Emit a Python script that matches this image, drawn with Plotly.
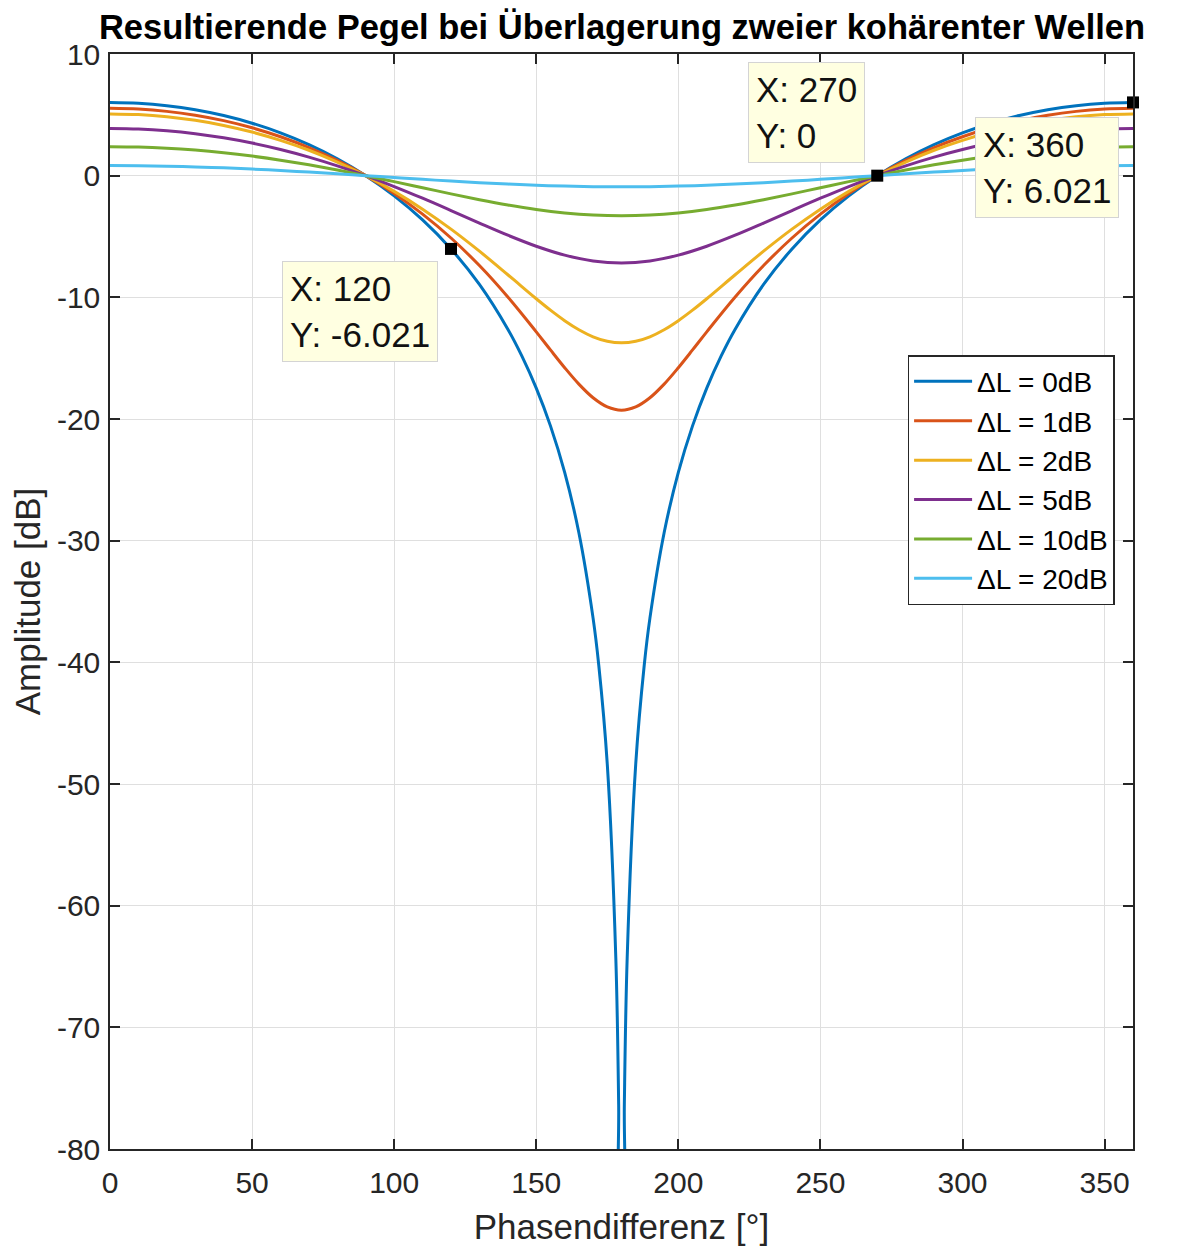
import plotly.graph_objects as go

# ---------------- data ----------------
phase_deg = [0, 10, 20, 30, 40, 50, 60, 70, 80, 90, 100, 110, 120, 130, 140, 150, 160, 170, 180,
             190, 200, 210, 220, 230, 240, 250, 260, 270, 280, 290, 300, 310, 320, 330, 340, 350, 360]

phase_deg_fine = [0, 10, 20, 30, 40, 50, 60, 70, 80, 90, 100, 110, 120, 130, 140, 150, 155, 160, 165,
                  170, 175, 180, 185, 190, 195, 200, 205, 210, 220, 230, 240, 250, 260, 270, 280,
                  290, 300, 310, 320, 330, 340, 350, 360]

phase_deg_0dB = [0, 10, 20, 30, 40, 50, 60, 70, 80, 90, 100, 110, 120, 130, 140, 145, 150, 155, 160,
                 165, 170, 172, 175, 178, 179, 179.5,
                 180.5, 181, 182, 185, 188, 190, 195, 200, 205, 210, 215, 220, 230, 240, 250, 260,
                 270, 280, 290, 300, 310, 320, 330, 340, 350, 360]
level_0dB = [6.021, 5.955, 5.755, 5.418, 4.940, 4.312, 3.522, 2.555, 1.391, 0.000, -1.657, -3.636,
             -6.021, -8.941, -12.617, -14.854, -17.460, -20.566, -24.392, -29.35, -36.369, -40.24,
             -48.39, -64.31, -76.35, -88.39,
             -88.39, -76.35, -64.31, -48.39, -40.24, -36.369, -29.35, -24.392, -20.566, -17.460,
             -14.854, -12.617, -8.941, -6.021, -3.636, -1.657, 0.000, 1.391, 2.555, 3.522, 4.312,
             4.940, 5.418, 5.755, 5.955, 6.021]

level_1dB = [5.535, 5.472, 5.285, 4.969, 4.521, 3.934, 3.201, 2.311, 1.250, 0.000, -1.461, -3.158,
             -5.124, -7.389, -9.971, -12.835, -14.323, -15.783, -17.132, -18.252, -19.004, -19.272,
             -19.004, -18.252, -17.132, -15.783, -14.323, -12.835,
             -9.971, -7.389, -5.124, -3.158, -1.461, 0.000, 1.250, 2.311, 3.201, 3.934, 4.521,
             4.969, 5.285, 5.472, 5.535]
level_2dB = [5.078, 5.019, 4.843, 4.547, 4.128, 3.583, 2.905, 2.088, 1.122, 0.000, -1.289, -2.754,
             -4.396, -6.207, -8.145, -10.114, -11.054, -11.918, -12.663, -13.241, -13.610, -13.737,
             -13.610, -13.241, -12.663, -11.918, -11.054, -10.114,
             -8.145, -6.207, -4.396, -2.754, -1.289, 0.000, 1.122, 2.088, 2.905, 3.583, 4.128,
             4.547, 4.843, 5.019, 5.078]
level_5dB = [3.876, 3.828, 3.685, 3.446, 3.111, 2.680, 2.152, 1.528, 0.809, 0.000, -0.892, -1.855,
             -2.867, -3.896, -4.894, -5.798, -6.529, -7.009, -7.177, -7.009, -6.529, -5.798,
             -4.894, -3.896, -2.867, -1.855, -0.892, 0.000, 0.809, 1.528, 2.152, 2.680, 3.111,
             3.446, 3.685, 3.828, 3.876]
level_10dB = [2.386, 2.355, 2.260, 2.102, 1.884, 1.607, 1.275, 0.892, 0.464, 0.000, -0.491, -0.994,
              -1.495, -1.974, -2.409, -2.780, -3.063, -3.241, -3.302, -3.241, -3.063, -2.780,
              -2.409, -1.974, -1.495, -0.994, -0.491, 0.000, 0.464, 0.892, 1.275, 1.607, 1.884,
              2.102, 2.260, 2.355, 2.386]
level_20dB = [0.828, 0.816, 0.780, 0.721, 0.641, 0.541, 0.424, 0.292, 0.150, 0.000, -0.152, -0.302,
              -0.446, -0.577, -0.692, -0.787, -0.857, -0.901, -0.915, -0.901, -0.857, -0.787,
              -0.692, -0.577, -0.446, -0.302, -0.152, 0.000, 0.150, 0.292, 0.424, 0.541, 0.641,
              0.721, 0.780, 0.816, 0.828]

series_names = ["ΔL = 0dB", "ΔL = 1dB", "ΔL = 2dB", "ΔL = 5dB", "ΔL = 10dB", "ΔL = 20dB"]
series_colors = ["#0072BD", "#D95319", "#EDB120", "#7E2F8E", "#77AC30", "#4DBEEE"]

tip_x = [120, 270, 360]
tip_y = [-6.021, 0, 6.021]
tip_labels = ["X: 120<br>Y: -6.021", "X: 270<br>Y: 0", "X: 360<br>Y: 6.021"]
tip_offsets = [(-91, 63), (-71, -63), (-86, 65)]

x_ticks = [0, 50, 100, 150, 200, 250, 300, 350]
x_tick_labels = ["0", "50", "100", "150", "200", "250", "300", "350"]
y_ticks = [10, 0, -10, -20, -30, -40, -50, -60, -70, -80]
y_tick_labels = ["10", "0", "-10", "-20", "-30", "-40", "-50", "-60", "-70", "-80"]

# ---------------- figure ----------------
FONT = "Liberation Sans, Arial, Helvetica, sans-serif"
AX = "#262626"
GRID = "#DFDFDF"
W, H = 1173, 1243   # page has an 8px body margin

fig = go.Figure()
xs = [phase_deg_0dB, phase_deg_fine, phase_deg_fine, phase_deg, phase_deg, phase_deg]
ys = [level_0dB, level_1dB, level_2dB, level_5dB, level_10dB, level_20dB]
for x, y, name, col in zip(xs, ys, series_names, series_colors):
    fig.add_trace(go.Scatter(x=x, y=y, mode="lines", name=name,
                             line=dict(color=col, width=3, shape="spline", smoothing=1.0)))

fig.add_trace(go.Scatter(x=tip_x, y=tip_y, mode="markers", showlegend=False, cliponaxis=False,
                         marker=dict(symbol="square", size=12, color="black")))

for tx, ty, txt, (ax, ay) in zip(tip_x, tip_y, tip_labels, tip_offsets):
    fig.add_annotation(x=tx, y=ty, xref="x", yref="y", text=txt, showarrow=True,
                       ax=ax, ay=ay, arrowcolor="rgba(0,0,0,0)", arrowwidth=0.1,
                       align="left", font=dict(family=FONT, size=35, color="#111111"),
                       bgcolor="#FFFFE1", bordercolor="#D4D4D4", borderwidth=1, borderpad=7)

axis_common = dict(showgrid=True, gridcolor=GRID, gridwidth=1, showline=True, linecolor=AX,
                   linewidth=1.5, mirror="ticks", ticks="inside", ticklen=10, tickwidth=1.5,
                   tickcolor=AX, zeroline=False, tickfont=dict(family=FONT, size=30, color=AX))

fig.update_layout(
    width=W, height=H,
    margin=dict(l=102, r=48, t=46, b=102),
    paper_bgcolor="white", plot_bgcolor="white",
    font=dict(family=FONT, size=30, color=AX),
    title=dict(text="<b>Resultierende Pegel bei Überlagerung zweier kohärenter Wellen</b>",
               x=614 / W, xref="container", xanchor="center",
               y=1 - 19 / H, yref="container", yanchor="middle",
               font=dict(family=FONT, size=34.5, color="black")),
    xaxis=dict(range=[0, 360], tickvals=x_ticks, ticktext=x_tick_labels, ticklabelstandoff=6,
               title=dict(text="Phasendifferenz [°]", standoff=17,
                          font=dict(family=FONT, size=35, color=AX)), **axis_common),
    yaxis=dict(range=[-80, 10], tickvals=y_ticks, ticktext=y_tick_labels, ticklabelstandoff=2,
               title=dict(text="Amplitude [dB]", standoff=8,
                          font=dict(family=FONT, size=35, color=AX)), **axis_common),
    legend=dict(x=0.982, y=0.725, xanchor="right", yanchor="top", bgcolor="white",
                bordercolor=AX, borderwidth=1.5, font=dict(family=FONT, size=28, color="black"),
                itemwidth=58, tracegroupgap=0),
    showlegend=True,
)

fig.write_html("out.html")
